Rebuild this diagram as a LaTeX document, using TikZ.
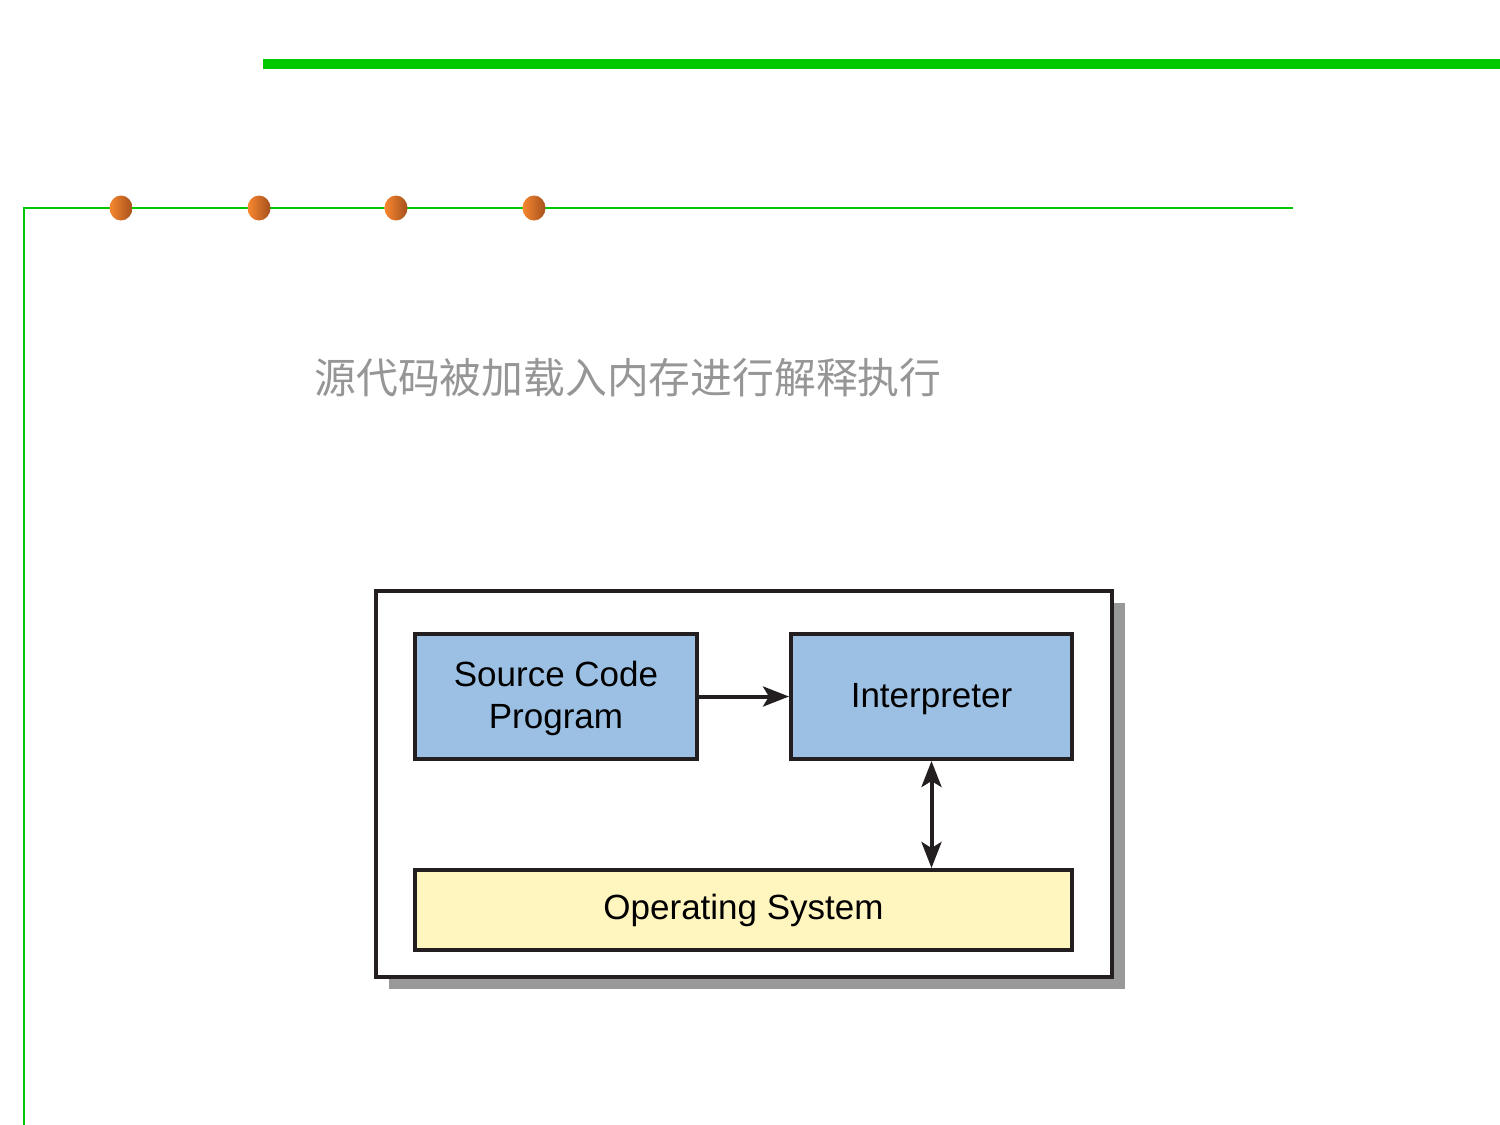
\documentclass[tikz,border=0pt]{standalone}
\usepackage{fontspec}
\setmainfont{Liberation Sans}
\newfontfamily\cjk{Noto Sans CJK SC}
\usetikzlibrary{arrows.meta}
\definecolor{brightgreen}{RGB}{0,200,0}
\definecolor{boxblue}{RGB}{155,192,228}
\definecolor{boxyellow}{RGB}{255,245,190}
\definecolor{shadowgray}{RGB}{153,153,153}
\definecolor{edgeblack}{RGB}{35,31,32}
\definecolor{dotlight}{RGB}{248,136,48}
\definecolor{dotdark}{RGB}{165,80,28}
\definecolor{titlegray}{RGB}{150,150,150}
\newcommand{\lowertext}[1]{\raisebox{0pt}[\height][\dimexpr\depth-3pt\relax]{#1}}
\begin{document}
\begin{tikzpicture}[x=0.5pt,y=-0.5pt,
  blockbox/.style={draw=edgeblack, line width=2pt, rectangle, inner sep=0pt,
    font=\fontsize{17.5}{21}\selectfont, align=center},
  flow/.style={draw=edgeblack, line width=2pt},
  flowtip/.tip={Stealth[length=13pt,width=10pt,inset=3pt]},
  dot/.style={left color=dotlight, right color=dotdark}
]
\useasboundingbox (0,0) rectangle (1500,1125);
% green decorative lines
\draw[brightgreen, line width=5pt] (263,64) -- (1500,64);
\draw[brightgreen, line width=1pt] (24,1125) -- (24,208) -- (1293,208);
% dots
\foreach \x in {121,259,396,534}
  \shade[dot] (\x,208) ellipse [x radius=11.5, y radius=12.5];
% title
\node[anchor=west, text=titlegray, font=\cjk\fontsize{20.9}{25}\selectfont, inner sep=0pt] (title) at (314,378) {源代码被加载入内存进行解释执行};
% shadow and outer box
\fill[shadowgray] (389,603) rectangle (1125,989);
\node[blockbox, fill=white, minimum width=368pt, minimum height=193pt] (outer) at (744,784) {};
% inner boxes
\node[blockbox, fill=boxblue, minimum width=141pt, minimum height=62.5pt] (src) at (556,696.5) {\lowertext{\begin{tabular}{@{}c@{}}Source Code\\Program\end{tabular}}};
\node[blockbox, fill=boxblue, minimum width=140.5pt, minimum height=62.5pt] (interp) at (931.5,696.5) {\lowertext{Interpreter}};
\node[blockbox, fill=boxyellow, minimum width=328.5pt, minimum height=40pt] (os) at (743.5,910) {Operating System};
% connectors
\draw[flow, -{flowtip}] (src.east) -- (interp.west);
\draw[flow, {flowtip}-{flowtip}] (interp.south) -- (interp.south |- os.north);
\end{tikzpicture}
\end{document}
